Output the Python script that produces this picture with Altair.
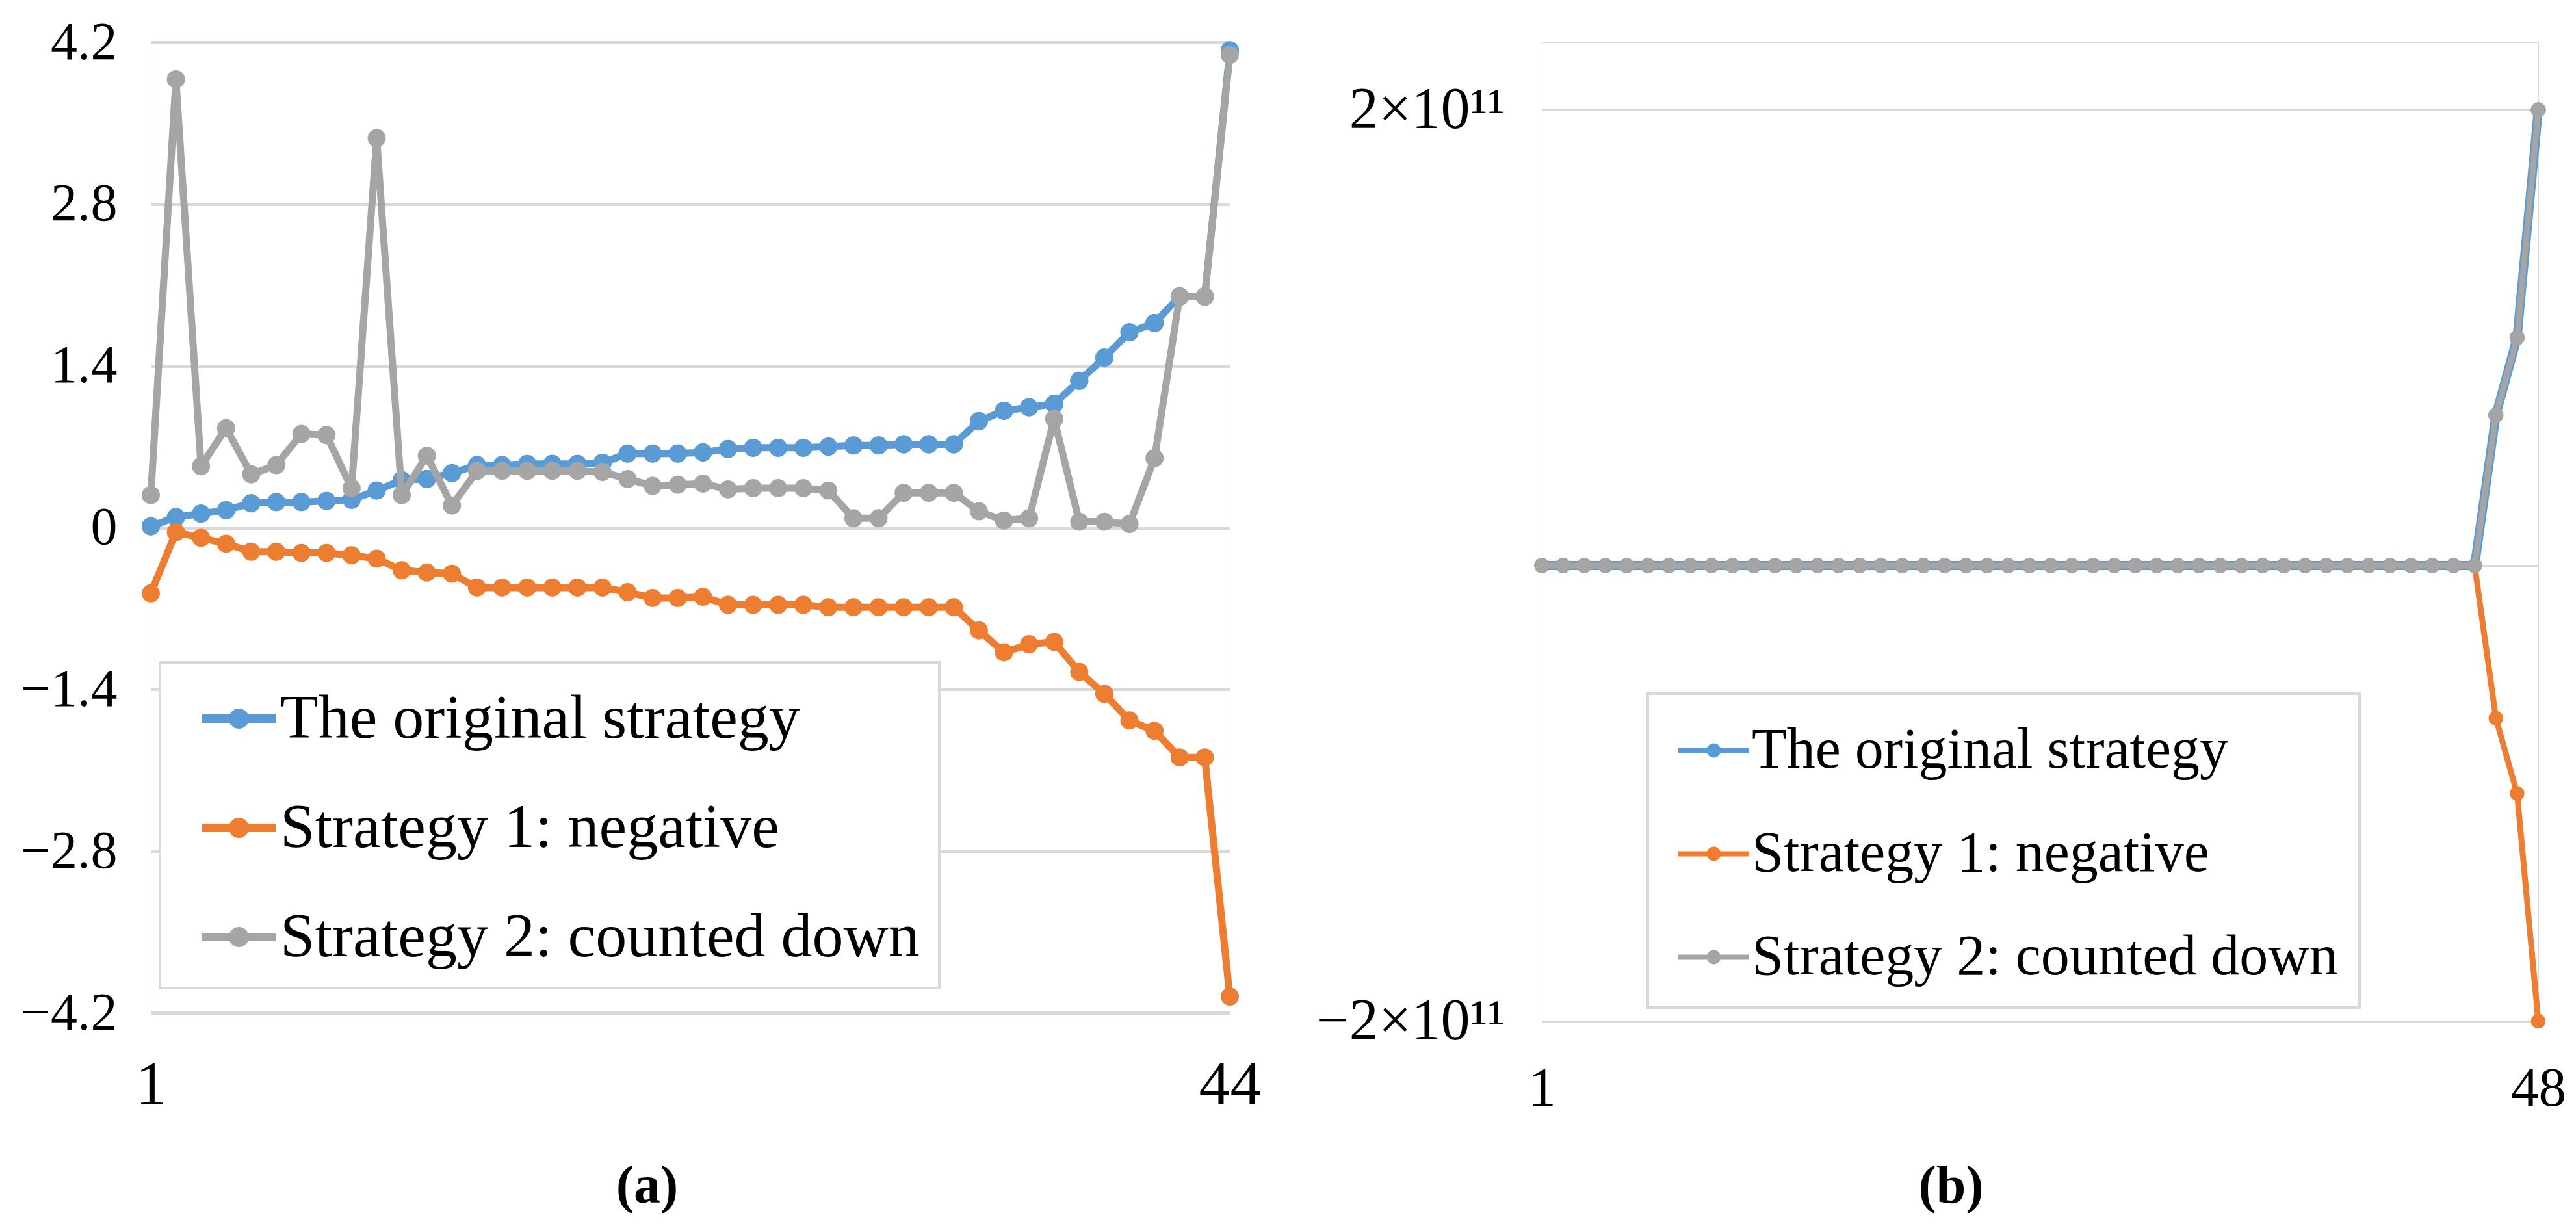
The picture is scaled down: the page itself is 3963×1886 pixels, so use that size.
import altair as alt
import pandas as pd

SERIES = ["The original strategy", "Strategy 1: negative", "Strategy 2: counted down"]
COLORS = ["#5B9BD5", "#ED7D31", "#A5A5A5"]
FONT = "Liberation Serif"

# ---------------- panel (a) ----------------
a_index = list(range(1, 45))
a_original = [0.01, 0.09, 0.12, 0.15, 0.21, 0.22, 0.22, 0.23, 0.24, 0.32,
              0.41, 0.42, 0.47, 0.54, 0.54, 0.55, 0.55, 0.55, 0.56, 0.64,
              0.64, 0.64, 0.65, 0.68, 0.69, 0.69, 0.69, 0.70, 0.71, 0.71,
              0.72, 0.72, 0.72, 0.92, 1.01, 1.04, 1.07, 1.27, 1.47, 1.69,
              1.77, 2.00, 2.00, 4.13]
a_negative = [-0.57, -0.04, -0.09, -0.14, -0.21, -0.21, -0.22, -0.22, -0.24, -0.27,
              -0.37, -0.39, -0.40, -0.52, -0.52, -0.52, -0.52, -0.52, -0.52, -0.56,
              -0.61, -0.61, -0.60, -0.67, -0.67, -0.67, -0.67, -0.69, -0.69, -0.69,
              -0.69, -0.69, -0.69, -0.89, -1.08, -1.01, -0.99, -1.25, -1.44, -1.67,
              -1.76, -1.99, -1.99, -4.06]
a_countdown = [0.28, 3.88, 0.53, 0.86, 0.46, 0.54, 0.81, 0.80, 0.34, 3.37,
               0.28, 0.62, 0.19, 0.49, 0.49, 0.49, 0.49, 0.49, 0.48, 0.42,
               0.36, 0.37, 0.38, 0.33, 0.34, 0.34, 0.34, 0.32, 0.08, 0.08,
               0.30, 0.30, 0.30, 0.14, 0.06, 0.08, 0.94, 0.05, 0.05, 0.03,
               0.60, 2.00, 2.00, 4.09]
a_y_ticks = [-4.2, -2.8, -1.4, 0, 1.4, 2.8, 4.2]
a_x_ticks = [1, 44]

# ---------------- panel (b) ----------------
b_index = list(range(1, 49))
b_original = [0, 0, 0, 0, 0, 0, 0, 0, 0, 0, 0, 0, 0, 0, 0,
              0, 0, 0, 0, 0, 0, 0, 0, 0, 0, 0, 0, 0, 0, 0,
              0, 0, 0, 0, 0, 0, 0, 0, 0, 0, 0, 0, 0, 0, 0,
              6.6e10, 1.0e11, 2.0e11]
b_negative = [0, 0, 0, 0, 0, 0, 0, 0, 0, 0, 0, 0, 0, 0, 0,
              0, 0, 0, 0, 0, 0, 0, 0, 0, 0, 0, 0, 0, 0, 0,
              0, 0, 0, 0, 0, 0, 0, 0, 0, 0, 0, 0, 0, 0, 0,
              -6.7e10, -1.0e11, -2.0e11]
b_countdown = [0, 0, 0, 0, 0, 0, 0, 0, 0, 0, 0, 0, 0, 0, 0,
               0, 0, 0, 0, 0, 0, 0, 0, 0, 0, 0, 0, 0, 0, 0,
               0, 0, 0, 0, 0, 0, 0, 0, 0, 0, 0, 0, 0, 0, 0,
               6.6e10, 1.0e11, 2.0e11]
b_y_ticks = [-2e11, 0, 2e11]
b_x_ticks = [1, 48]


def frame(idx, lists):
    rows = []
    for name, vals in zip(SERIES, lists):
        for i, v in zip(idx, vals):
            rows.append({"idx": i, "value": v, "series": name})
    return pd.DataFrame(rows)


def make_panel(df, x_scale, x_axis, y_scale, y_axis, width, height,
               line_widths, point_sizes, legend):
    color_scale = alt.Scale(domain=SERIES, range=COLORS)
    layers = []
    for k, name in enumerate(SERIES):
        sub = df[df["series"] == name]
        base = alt.Chart(sub).encode(
            x=alt.X("idx:Q", scale=x_scale, axis=x_axis),
            y=alt.Y("value:Q", scale=y_scale, axis=y_axis),
        )
        if k == 0:
            # first layer carries the legend of this panel
            layers.append(base.mark_point(filled=True, size=point_sizes[k], opacity=1,
                                          shape="circle", strokeWidth=0).encode(
                color=alt.Color("series:N", scale=color_scale, legend=legend)))
        line = base.mark_line(strokeWidth=line_widths[k], strokeJoin="round").encode(
            color=alt.Color("series:N", scale=color_scale, legend=None)
        )
        pts = base.mark_point(filled=True, size=point_sizes[k], opacity=1,
                              shape="circle", strokeWidth=0).encode(
            color=alt.Color("series:N", scale=color_scale, legend=None)
        )
        layers += [line, pts]
    return alt.layer(*layers).properties(width=width, height=height)


# ---- panel (a) definition ----
df_a = frame(a_index, [a_original, a_negative, a_countdown])
sym_a = ("M-1,-0.115L1,-0.115L1,0.115L-1,0.115Z "
         "M0.274,0A0.274,0.274,0,1,1,-0.274,0A0.274,0.274,0,1,1,0.274,0Z")
legend_a = alt.Legend(
    orient="none", legendX=14, legendY=954, title=None, direction="vertical",
    labelFont=FONT, labelFontSize=96, labelColor="black", labelLimit=3000,
    symbolType=sym_a, symbolSize=113 * 113, symbolStrokeWidth=0,
    symbolOffset=35, labelOffset=7, rowPadding=63, padding=30,
    strokeColor="#D9D9D9", fillColor="white",
)
panel_a = make_panel(
    df_a,
    alt.Scale(domain=[1, 44], nice=False, zero=False),
    alt.Axis(values=a_x_ticks, grid=False, domain=False, ticks=False,
             labelFont=FONT, labelFontSize=96, labelColor="black",
             labelPadding=64, labelFlush=False, labelOverlap=False,
             title="(a)", titleFont=FONT, titleFontSize=82, titleFontWeight="bold",
             titleColor="black", titleX=763, titleY=266,
             titleBaseline="middle", titleAlign="center"),
    alt.Scale(domain=[-4.2, 4.2], nice=False, zero=False),
    alt.Axis(values=a_y_ticks, grid=True, gridColor="#D9D9D9",
             gridWidth=5, domain=False, ticks=False, labelFont=FONT,
             labelFontSize=82, labelColor="black", labelPadding=52,
             labelFlush=False, labelOverlap=False, labelLimit=1000, title=None,
             labelExpr="datum.value == 0 ? '0' : format(datum.value, '.1f')"),
    1660, 1493,
    [11, 11, 11], [780, 780, 780], legend_a,
)

# ---- panel (b) definition ----
df_b = frame(b_index, [b_original, b_negative, b_countdown])
sym_b = ("M-1,-0.075L1,-0.075L1,0.075L-1,0.075Z "
         "M0.2,0A0.2,0.2,0,1,1,-0.2,0A0.2,0.2,0,1,1,0.2,0Z")
legend_b = alt.Legend(
    orient="none", legendX=163, legendY=1002, title=None, direction="vertical",
    labelFont=FONT, labelFontSize=88, labelColor="black", labelLimit=3000,
    symbolType=sym_b, symbolSize=109 * 109, symbolStrokeWidth=0,
    symbolOffset=14, labelOffset=4, rowPadding=60, padding=33,
    strokeColor="#D9D9D9", fillColor="white",
)
panel_b = make_panel(
    df_b,
    alt.Scale(domain=[1, 48], nice=False, zero=False),
    alt.Axis(values=b_x_ticks, grid=False, domain=False, ticks=False,
             labelFont=FONT, labelFontSize=85, labelColor="black",
             labelPadding=62, labelFlush=False, labelOverlap=False,
             title="(b)", titleFont=FONT, titleFontSize=82, titleFontWeight="bold",
             titleColor="black", titleX=629, titleY=253,
             titleBaseline="middle", titleAlign="center"),
    alt.Scale(domain=[-2e11, 2.297e11], nice=False, zero=False),
    alt.Axis(values=b_y_ticks, grid=True, gridColor="#D9D9D9", gridWidth=3,
             domain=False, ticks=False, labelFont=FONT, labelFontSize=90,
             labelColor="black", labelPadding=57, labelFlush=False,
             labelOverlap=False, labelLimit=1000, title=None,
             labelExpr="datum.value == 0 ? '' : (datum.value > 0 ? '2×10¹¹' : '−2×10¹¹')"),
    1533, 1506,
    [14, 9, 9], [530, 500, 530], legend_b,
)

chart = alt.hconcat(panel_a, panel_b, spacing=480, bounds="flush").resolve_scale(
    color="independent"
).resolve_legend(color="independent").properties(
    padding={"left": 22, "top": 15, "right": 0, "bottom": 0}
).configure_view(stroke=None).configure(font=FONT).configure_legend(strokeWidth=4)

chart.save("out.html", embed_options={"renderer": "svg", "actions": False})
